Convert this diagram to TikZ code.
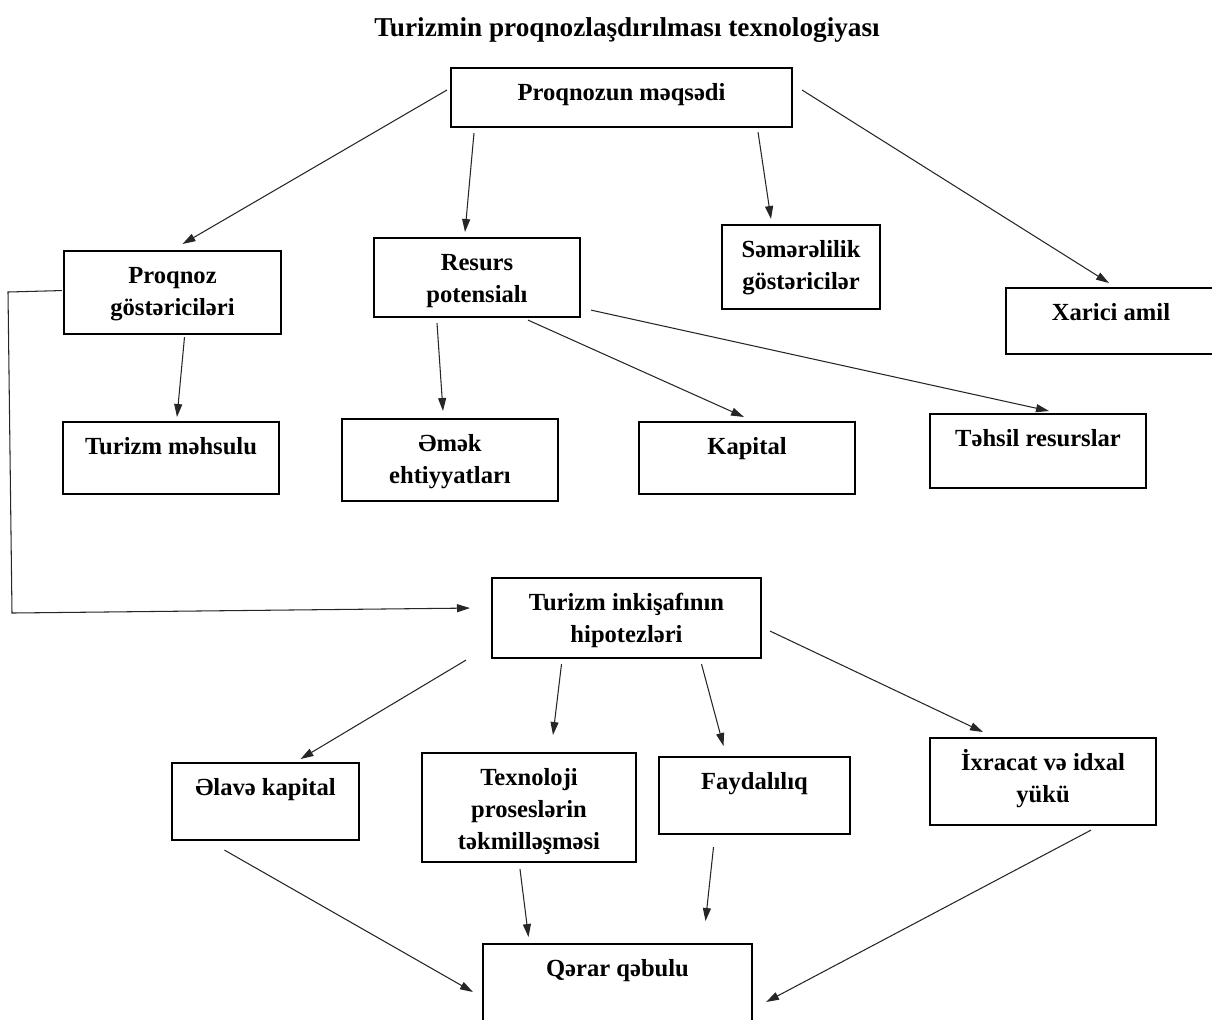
\documentclass[tikz,border=0pt]{standalone}
\usepackage{fontspec}
\setmainfont{Liberation Serif}
\usetikzlibrary{arrows.meta}

\begin{document}
\begin{tikzpicture}[x=0.02cm, y=-0.02cm]
    \tikzset{
        box/.style={
            rectangle,
            draw=black,
            line width=1.2pt,
            anchor=north,
            align=flush center,
            inner xsep=0pt,
            inner ysep=0.1cm,
            text width=#1,
            text height=0.54cm,
            font=\bfseries\fontsize{14}{18.2}\selectfont
        },
        link/.style={
            draw=black!85,
            line width=0.6pt,
            -{Triangle[length=2.6mm, width=1.6mm]}
        }
    }

    \clip (0,0) rectangle (1212,1019);

    \node[font=\bfseries\fontsize{15.5}{18}\selectfont] (title) at (627,30) {Turizmin proqnozlaşdırılması texnologiyası};

    % first level
    \node[box=6.82cm, text depth=0.44cm] (goal) at (621.5,67) {Proqnozun məqsədi};
    \node[box=4.34cm, text depth=0.92cm] (indic) at (172.5,250) {Proqnoz\\göstəriciləri};
    \node[box=4.12cm, text depth=0.84cm] (resource) at (477,237) {Resurs\\potensialı};
    \node[box=3.16cm, text depth=0.94cm] (effic) at (801,224) {Səmərəlilik\\göstəricilər};
    \node[box=4.20cm, text depth=0.58cm] (external) at (1111,287) {Xarici amil};

    % second level
    \node[box=4.32cm, text depth=0.70cm] (product) at (171,421) {Turizm məhsulu};
    \node[box=4.32cm, text depth=0.90cm] (labour) at (450,418) {Əmək\\ehtiyyatları};
    \node[box=4.32cm, text depth=0.70cm] (capital) at (747,421) {Kapital};
    \node[box=4.32cm, text depth=0.74cm] (educ) at (1038,413) {Təhsil resurslar};

    % hypotheses
    \node[box=5.38cm, text depth=0.86cm] (hypo) at (626.5,577) {Turizm inkişafının\\hipotezləri};
    \node[box=3.74cm, text depth=0.80cm] (extra) at (265.5,762) {Əlavə kapital};
    \node[box=4.28cm, text depth=1.44cm] (techno) at (529,752) {Texnoloji\\proseslərin\\təkmilləşməsi};
    \node[box=3.82cm, text depth=0.80cm] (useful) at (754.5,756) {Faydalılıq};
    \node[box=4.52cm, text depth=1.00cm] (trade) at (1043,737) {İxracat və idxal\\yükü};
    \node[box=5.38cm, text depth=1.00cm] (decision) at (617.5,943) {Qərar qəbulu};

    \draw[link] ([shift={(-3,23)}]goal.north west) -- ([shift={(10,-6)}]indic.north);
    \draw[link] ([shift={(24,5)}]goal.south west) -- ([shift={(-12,-5)}]resource.north);
    \draw[link] ([shift={(-35,4)}]goal.south east) -- ([shift={(-30,-5)}]effic.north);
    \draw[link] ([shift={(9,23)}]goal.north east) -- ([shift={(-2,-4)}]external.north);

    \draw[link] ([shift={(12,2)}]indic.south) -- ([shift={(6,-4)}]product.north);
    \draw[link] ([shift={(-40,5)}]resource.south) -- ([shift={(-7,-7)}]labour.north);
    \draw[link] ([shift={(51,2)}]resource.south) -- ([shift={(-3,-4)}]capital.north);
    \draw[link] ([shift={(10,-8)}]resource.south east) -- ([shift={(11,-2)}]educ.north);

    \draw[link] ([shift={(-1,-2)}]indic.west) -- (8,292) -- (12,613) -- ([shift={(-21,-10)}]hypo.west);

    \draw[link] ([shift={(-25,1)}]hypo.south west) -- ([shift={(35,-3)}]extra.north);
    \draw[link] ([shift={(-65,5)}]hypo.south) -- ([shift={(24,-17)}]techno.north);
    \draw[link] ([shift={(75,5)}]hypo.south) -- ([shift={(-31,-10)}]useful.north);
    \draw[link] ([shift={(8,13)}]hypo.east) -- ([shift={(-60,-5)}]trade.north);

    \draw[link] ([shift={(-41,9)}]extra.south) -- ([shift={(-9,49)}]decision.north west);
    \draw[link] ([shift={(-9,6)}]techno.south) -- ([shift={(-89,-6)}]decision.north);
    \draw[link] ([shift={(-41,12)}]useful.south) -- ([shift={(88,-22)}]decision.north);
    \draw[link] ([shift={(48,4)}]trade.south) -- ([shift={(13,59)}]decision.north east);

\end{tikzpicture}
\end{document}
